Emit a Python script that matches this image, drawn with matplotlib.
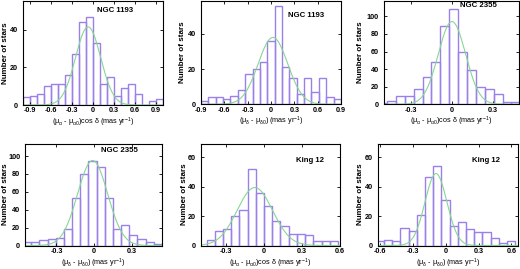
import numpy as np
import matplotlib
matplotlib.use("Agg")
import matplotlib.pyplot as plt

plt.rcParams['font.family'] = ['Liberation Sans', 'DejaVu Sans']
plt.rcParams['mathtext.fontset'] = 'custom'
plt.rcParams['mathtext.rm'] = 'Liberation Sans'
plt.rcParams['mathtext.it'] = 'Liberation Sans'
plt.rcParams['mathtext.bf'] = 'Liberation Sans:bold'

W, H = 520, 269
BAR_C = "#9a80e8"
FIT_C = "#86d892"

# ---- data ----
titles = ["NGC 1193", "NGC 1193", "NGC 2355", "NGC 2355", "King 12", "King 12"]

p1_counts = [4, 5, 6, 10, 11, 11, 16, 27, 44, 47, 33, 11, 15, 5, 9, 11, 6, 0, 2, 3]
p2_counts = [2, 4, 4, 3, 5, 8, 17, 20, 24, 36, 56, 21, 15, 6, 15, 7, 15, 4, 3]
p3_counts = [2, 4, 9, 10, 17, 31, 48, 89, 108, 59, 39, 20, 17, 12, 3, 3]
p4_counts = [4, 4, 6, 7, 8, 19, 53, 80, 95, 88, 53, 19, 23, 12, 7, 4, 2]
p5_counts = [4, 10, 11, 20, 24, 52, 36, 27, 17, 13, 8, 8, 7, 3, 3, 3]
p6_counts = [3, 4, 3, 12, 10, 21, 47, 54, 31, 13, 16, 11, 9, 9, 5, 2, 3]

# bin start and width per panel
bin_start = [-1.0, -0.9, -0.54, -0.565, -0.452, -0.64]
bin_width = [0.1, 0.0947, 0.065, 0.065, 0.065, 0.075]

# gaussian fit parameters (amplitude, mean, sigma)
fit_amp = [41.5, 38.0, 94.0, 95.0, 39.5, 49.0]
fit_mu = [-0.07, 0.025, 0.0, -0.012, -0.07, -0.09]
fit_sig = [0.18, 0.19, 0.10, 0.12, 0.14, 0.10]

xlims = [(-1.0, 1.0), (-0.9, 0.9), (-0.5, 0.49), (-0.55, 0.54), (-0.5, 0.6), (-0.62, 0.66)]
ylims = [(0, 55.5), (0, 59), (0, 118), (0, 114), (0, 69.5), (0, 69.5)]

xt_a = [-0.9, -0.6, -0.3, 0, 0.3, 0.6, 0.9]
xt_b = [-0.3, 0, 0.3]
xt_c = [-0.3, 0, 0.3, 0.6]
xt_d = [-0.6, -0.3, 0, 0.3, 0.6]
xticks = [xt_a, xt_a, xt_b, xt_b, xt_c, xt_d]
yticks = [[0, 20, 40], [0, 20, 40], [0, 20, 40, 60, 80, 100],
          [0, 20, 40, 60, 80, 100], [0, 20, 40, 60], [0, 20, 40, 60]]

xl_ra = r"($\mu_{\alpha}$ - $\mu_{\alpha0}$)cos $\delta$ (mas yr$^{-1}$)"
xl_de = r"($\mu_{\delta}$ - $\mu_{\delta0}$) (mas yr$^{-1}$)"
xlabels = [xl_ra, xl_de, xl_ra, xl_de, xl_ra, xl_de]
ylabel = "Number of stars"

counts_all = [p1_counts, p2_counts, p3_counts, p4_counts, p5_counts, p6_counts]

# ---- layout (pixels: left, right, top, bottom) ----
boxes = [(23, 163, 0.5, 105), (201, 341, 0.5, 104.3), (383.5, 519, 0.5, 104.3),
         (25, 162, 143.5, 245.5), (200.5, 339.5, 143.5, 245.5), (378, 518, 143.5, 245.5)]
ylabel_x = [5.5, 182, 360, 5.5, 184, 360]
title_pos = [(0.66, 0.90), (0.75, 0.86), (0.70, 0.955), (0.69, 0.93), (0.79, 0.83), (0.77, 0.83)]

fig = plt.figure(figsize=(W / 100, H / 100), dpi=100)

for i in range(6):
    l, r, t, b = boxes[i]
    ax = fig.add_axes([l / W, 1 - b / H, (r - l) / W, (b - t) / H])
    counts = counts_all[i]
    edges = bin_start[i] + bin_width[i] * np.arange(len(counts))
    ax.bar(edges, counts, width=bin_width[i], align='edge', fill=False,
           edgecolor=BAR_C, linewidth=1.0)
    xs = np.linspace(xlims[i][0], xlims[i][1], 400)
    ax.plot(xs, fit_amp[i] * np.exp(-0.5 * ((xs - fit_mu[i]) / fit_sig[i]) ** 2),
            color=FIT_C, lw=0.8)
    ax.set_xlim(*xlims[i])
    ax.set_ylim(*ylims[i])
    ax.set_xticks(xticks[i])
    ax.set_xticklabels(["0" if v == 0 else f"{v:.1f}" for v in xticks[i]])
    ax.set_yticks(yticks[i])
    ax.tick_params(direction='in', length=2.5, width=0.6, top=True, right=True,
                   labelsize=5.2)
    ax.tick_params(axis='x', pad=1.8)
    ax.tick_params(axis='y', pad=3.5)
    for lab in ax.get_xticklabels() + ax.get_yticklabels():
        lab.set_fontweight('bold')
    for s in ax.spines.values():
        s.set_linewidth(0.8)
    ax.set_xlabel(xlabels[i], fontsize=5.2, labelpad=1.0)
    fig.text(ylabel_x[i] / W, 1 - (t + b) / 2 / H, ylabel, rotation=90,
             ha='center', va='center', fontsize=5.8, fontweight='bold')
    ax.text(title_pos[i][0], title_pos[i][1], titles[i], transform=ax.transAxes,
            fontsize=5.6, fontweight='bold', ha='center', va='center')

fig.savefig("out.png", dpi=100)
